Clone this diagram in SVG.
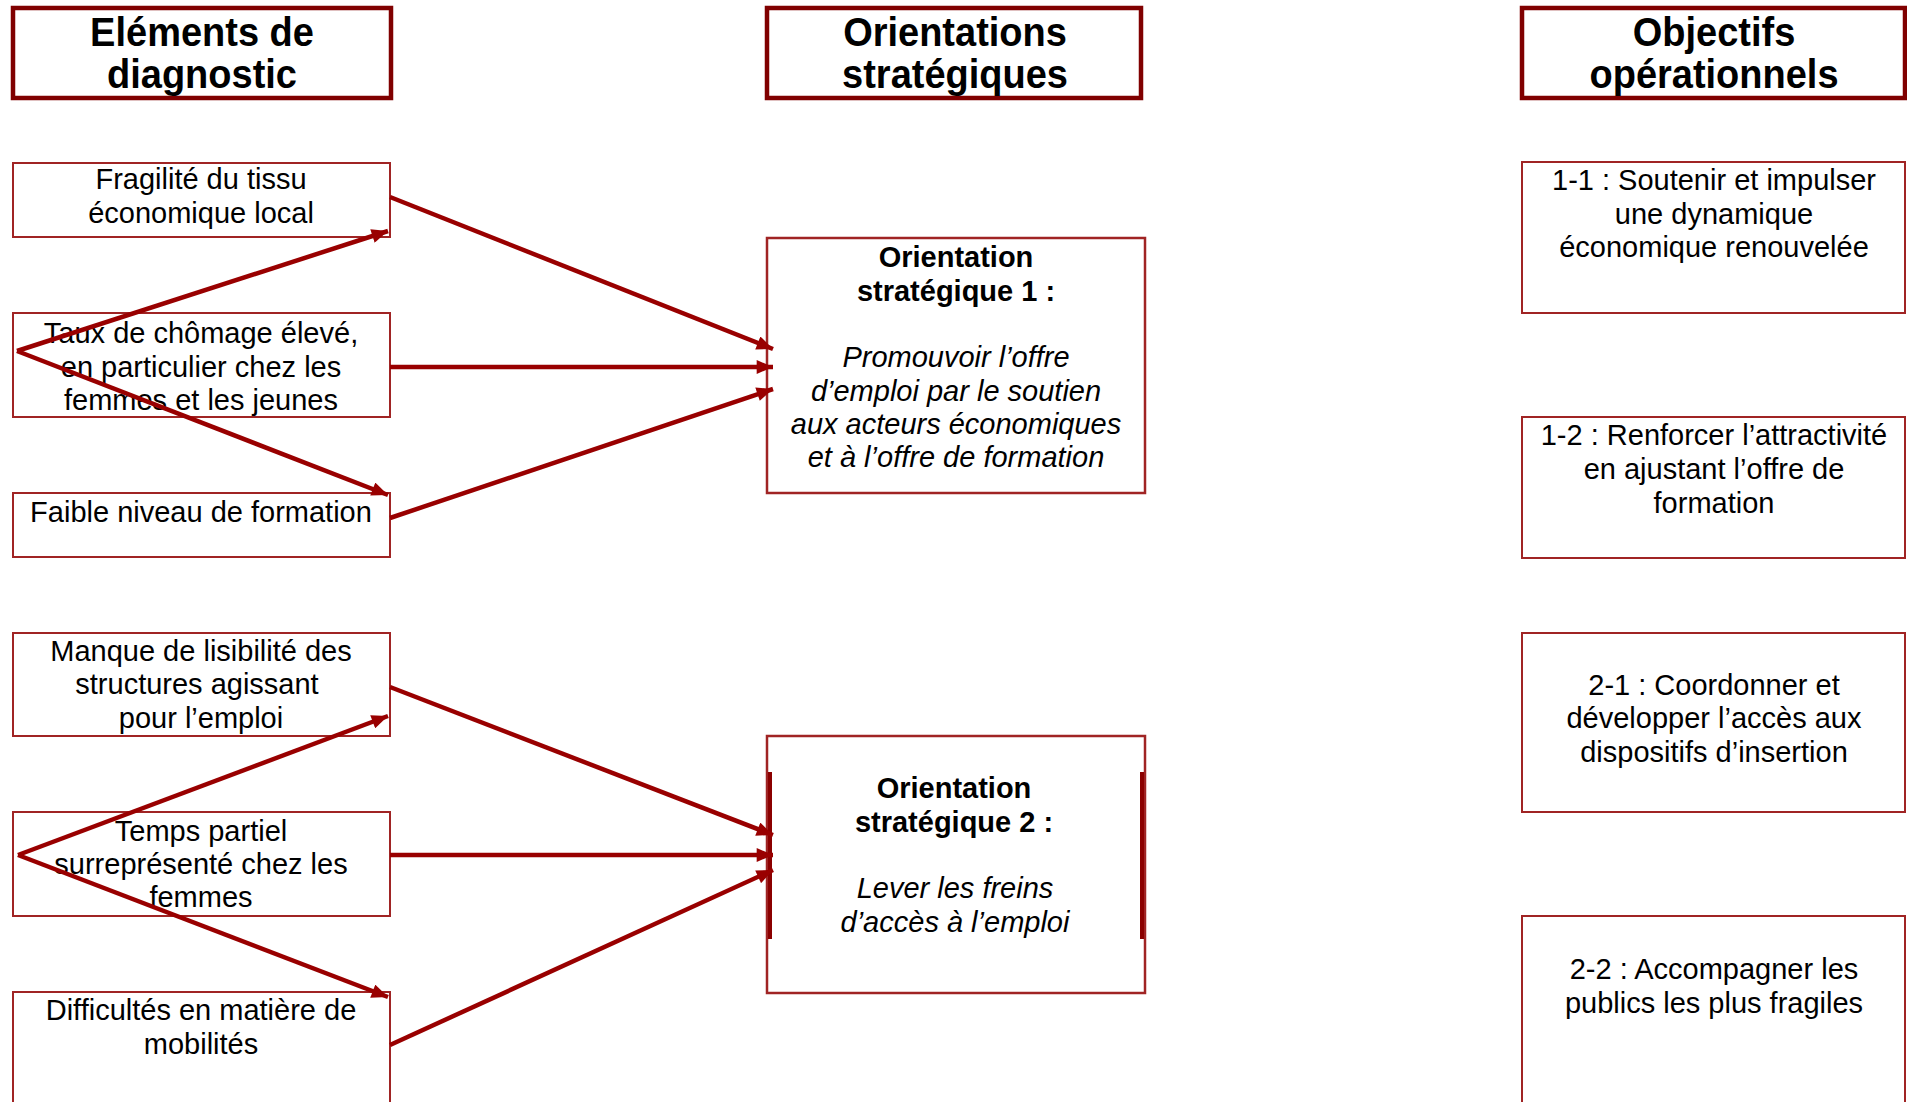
<svg xmlns="http://www.w3.org/2000/svg" width="1907" height="1102" viewBox="0 0 1907 1102">
<style>
  .hdr { fill: #ffffff; stroke: #800000; stroke-width: 4.5; }
  .box { fill: #ffffff; stroke: #A02424; stroke-width: 2; }
  .obox { fill: #ffffff; stroke: #A02424; stroke-width: 2.5; }
  text { font-family: "Liberation Sans", Arial, sans-serif; fill: #000000; text-anchor: middle; }
  .h { font-size: 38px; font-weight: bold; }
  .t { font-size: 29px; }
  .b { font-size: 29px; font-weight: bold; }
  .i { font-size: 29px; font-style: italic; }
  .con { stroke: #990000; stroke-width: 4.5; fill: none; marker-end: url(#ah); }
  .bar { stroke: #8B0000; stroke-width: 4; }
</style>
<defs>
  <marker id="ah" viewBox="0 0 14 12" refX="14" refY="6" markerWidth="17" markerHeight="14" markerUnits="userSpaceOnUse" orient="auto">
    <path d="M0,0 L14,6 L0,12 z" fill="#990000"/>
  </marker>
</defs>
<rect width="1907" height="1102" fill="#ffffff"/>

<g id="header-diagnostic">
  <rect class="hdr" x="13" y="8" width="378" height="90"/>
  <text class="h" transform="translate(202,0) scale(1,1.08)"><tspan x="0" y="42.2">Eléments de</tspan><tspan x="0" y="81.5">diagnostic</tspan></text>
</g>
<g id="header-orientations">
  <rect class="hdr" x="767" y="8" width="374" height="90"/>
  <text class="h" transform="translate(955,0) scale(1,1.08)"><tspan x="0" y="42.2">Orientations</tspan><tspan x="0" y="81.5">stratégiques</tspan></text>
</g>
<g id="header-objectifs">
  <rect class="hdr" x="1522" y="8" width="383" height="90"/>
  <text class="h" transform="translate(1714,0) scale(1,1.08)"><tspan x="0" y="42.2">Objectifs</tspan><tspan x="0" y="81.5">opérationnels</tspan></text>
</g>

<g id="d1">
  <rect class="box" x="13" y="163" width="377" height="74"/>
  <text class="t" x="201" y="189">Fragilité du tissu</text>
  <text class="t" x="201" y="223">économique local</text>
</g>
<g id="d2">
  <rect class="box" x="13" y="313" width="377" height="104"/>
  <text class="t" x="201" y="343">Taux de chômage élevé,</text>
  <text class="t" x="201" y="377">en particulier chez les</text>
  <text class="t" x="201" y="410">femmes et les jeunes</text>
</g>
<g id="d3">
  <rect class="box" x="13" y="493" width="377" height="64"/>
  <text class="t" x="201" y="522">Faible niveau de formation</text>
</g>
<g id="d4">
  <rect class="box" x="13" y="633" width="377" height="103"/>
  <text class="t" x="201" y="661">Manque de lisibilité des</text>
  <text class="t" x="197" y="694">structures agissant</text>
  <text class="t" x="201" y="728">pour l’emploi</text>
</g>
<g id="d5">
  <rect class="box" x="13" y="812" width="377" height="104"/>
  <text class="t" x="201" y="841">Temps partiel</text>
  <text class="t" x="201" y="874">surreprésenté chez les</text>
  <text class="t" x="201" y="907">femmes</text>
</g>
<g id="d6">
  <rect class="box" x="13" y="992" width="377" height="130"/>
  <text class="t" x="201" y="1020">Difficultés en matière de</text>
  <text class="t" x="201" y="1054">mobilités</text>
</g>

<g id="os1">
  <rect class="obox" x="767" y="238" width="378" height="255"/>
  <text class="b" x="956" y="267">Orientation</text>
  <text class="b" x="956" y="301">stratégique 1 :</text>
  <text class="i" x="956" y="367">Promouvoir l’offre</text>
  <text class="i" x="956" y="401">d’emploi par le soutien</text>
  <text class="i" x="956" y="434">aux acteurs économiques</text>
  <text class="i" x="956" y="467">et à l’offre de formation</text>
</g>
<g id="os2">
  <rect class="obox" x="767" y="736" width="378" height="257"/>
  <line class="bar" x1="770" y1="772" x2="770" y2="939"/>
  <line class="bar" x1="1142" y1="772" x2="1142" y2="939"/>
  <text class="b" x="954" y="798">Orientation</text>
  <text class="b" x="954" y="832">stratégique 2 :</text>
  <text class="i" x="955" y="898">Lever les freins</text>
  <text class="i" x="955" y="932">d’accès à l’emploi</text>
</g>

<g id="o11">
  <rect class="box" x="1522" y="162" width="383" height="151"/>
  <text class="t" x="1714" y="190">1-1 : Soutenir et impulser</text>
  <text class="t" x="1714" y="224">une dynamique</text>
  <text class="t" x="1714" y="257">économique renouvelée</text>
</g>
<g id="o12">
  <rect class="box" x="1522" y="417" width="383" height="141"/>
  <text class="t" x="1714" y="445">1-2 : Renforcer l’attractivité</text>
  <text class="t" x="1714" y="479">en ajustant l’offre de</text>
  <text class="t" x="1714" y="513">formation</text>
</g>
<g id="o21">
  <rect class="box" x="1522" y="633" width="383" height="179"/>
  <text class="t" x="1714" y="695">2-1 : Coordonner et</text>
  <text class="t" x="1714" y="728">développer l’accès aux</text>
  <text class="t" x="1714" y="762">dispositifs d’insertion</text>
</g>
<g id="o22">
  <rect class="box" x="1522" y="916" width="383" height="200"/>
  <text class="t" x="1714" y="979">2-2 : Accompagner les</text>
  <text class="t" x="1714" y="1013">publics les plus fragiles</text>
</g>

<g id="connectors">
  <line class="con" x1="390" y1="197" x2="773" y2="349"/>
  <line class="con" x1="390" y1="367" x2="773" y2="367"/>
  <line class="con" x1="390" y1="518" x2="773" y2="389"/>
  <line class="con" x1="17" y1="351" x2="388" y2="231"/>
  <line class="con" x1="17" y1="351" x2="388" y2="495"/>
  <line class="con" x1="390" y1="687" x2="773" y2="835"/>
  <line class="con" x1="390" y1="855" x2="773" y2="855"/>
  <line class="con" x1="390" y1="1045" x2="773" y2="870"/>
  <line class="con" x1="18" y1="855" x2="388" y2="716"/>
  <line class="con" x1="18" y1="855" x2="388" y2="997"/>
</g>
</svg>
